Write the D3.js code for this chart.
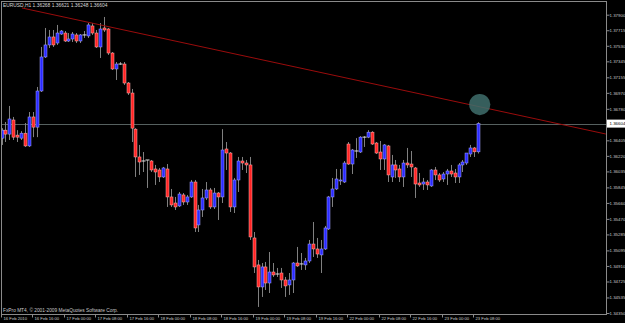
<!DOCTYPE html>
<html>
<head>
<meta charset="utf-8">
<script src="https://cdn.jsdelivr.net/npm/d3@7"></script>
<style>
    html, body { margin: 0; padding: 0; background: #000; }
    #chart { width: 625px; height: 323px; }
    text { font-family: "Liberation Sans", Arial, sans-serif; }
</style>
</head>
<body>
<div id="chart"></div>
<script>
const titleText = 'EURUSD,H1 1.36268 1.36621 1.36248 1.36604';
const copyrightText = 'FxPro MT4, \u00A9 2001-2009 MetaQuotes Software Corp.';

// H1 bars, 16 Feb 08:00 .. 23 Feb 09:00
const opens = [
    1.36431, 1.36526, 1.36479, 1.36647, 1.36467, 1.36431, 1.36490, 1.36338, 1.36683, 1.36562,
    1.36992, 1.37397, 1.37540, 1.37635, 1.37563, 1.37670, 1.37682, 1.37587, 1.37611, 1.37659,
    1.37587, 1.37659, 1.37647, 1.37766, 1.37682, 1.37516, 1.37742, 1.37730, 1.37444, 1.37254,
    1.37313, 1.37313, 1.37087, 1.36968, 1.36538, 1.36207, 1.36159, 1.36171, 1.36159, 1.36064,
    1.36052, 1.35969, 1.36064, 1.35731, 1.35659, 1.35624, 1.35755, 1.35671, 1.35731, 1.35909,
    1.35398, 1.35576, 1.35719, 1.35814, 1.35612, 1.35778, 1.35731, 1.36302, 1.36254, 1.35612,
    1.35933, 1.36159, 1.36135, 1.36112, 1.35243, 1.34922, 1.34660, 1.34898, 1.34707, 1.34838,
    1.34814, 1.34826, 1.34743, 1.34684, 1.34743, 1.34945, 1.34934, 1.34922, 1.34969, 1.35171,
    1.35112, 1.35041, 1.35112, 1.35350, 1.35731, 1.35826, 1.35921, 1.35909, 1.36361, 1.36123,
    1.36278, 1.36266, 1.36443, 1.36443, 1.36502, 1.36373, 1.36266, 1.36183, 1.36338, 1.35969,
    1.36112, 1.36064, 1.35969, 1.36135, 1.36123, 1.36076, 1.35897, 1.35885, 1.35909, 1.35862,
    1.36052, 1.35993, 1.35945, 1.36004, 1.36040, 1.36016, 1.35969, 1.36112, 1.36135, 1.36242,
    1.36314, 1.36268
];
const highs = [
    1.36550, 1.36623, 1.36814, 1.36683, 1.36526, 1.36514, 1.36611, 1.36742, 1.36742, 1.37040,
    1.37516, 1.37742, 1.37718, 1.37718, 1.37778, 1.37718, 1.37706, 1.37682, 1.37694, 1.37682,
    1.37670, 1.37706, 1.37801, 1.37801, 1.37718, 1.37801, 1.37873, 1.37742, 1.37456, 1.37337,
    1.37337, 1.37337, 1.37099, 1.37016, 1.36550, 1.36350, 1.36266, 1.36171, 1.36171, 1.36112,
    1.36076, 1.36088, 1.36123, 1.35826, 1.35731, 1.35790, 1.35778, 1.35755, 1.35933, 1.35933,
    1.35636, 1.35826, 1.35909, 1.35838, 1.35838, 1.35790, 1.36538, 1.36385, 1.36266, 1.35957,
    1.36207, 1.36207, 1.36171, 1.36207, 1.35314, 1.34981, 1.34945, 1.34957, 1.35076, 1.34945,
    1.34886, 1.34886, 1.34779, 1.34826, 1.34957, 1.35136, 1.35064, 1.35005, 1.35219, 1.35433,
    1.35243, 1.35219, 1.35386, 1.35743, 1.35957, 1.36064, 1.36064, 1.36159, 1.36385, 1.36302,
    1.36431, 1.36455, 1.36455, 1.36526, 1.36514, 1.36385, 1.36397, 1.36361, 1.36350, 1.36231,
    1.36171, 1.36112, 1.36171, 1.36314, 1.36278, 1.36088, 1.36016, 1.35957, 1.35933, 1.36064,
    1.36088, 1.36016, 1.36028, 1.36064, 1.36112, 1.36064, 1.36135, 1.36171, 1.36254, 1.36350,
    1.36326, 1.36621
];
const lows = [
    1.36350, 1.36385, 1.36409, 1.36409, 1.36385, 1.36409, 1.36326, 1.36326, 1.36443, 1.36443,
    1.36980, 1.37385, 1.37504, 1.37516, 1.37540, 1.37659, 1.37575, 1.37575, 1.37575, 1.37563,
    1.37563, 1.37623, 1.37623, 1.37659, 1.37504, 1.37385, 1.37694, 1.37421, 1.37242, 1.37123,
    1.37302, 1.37064, 1.36945, 1.36385, 1.35969, 1.35993, 1.36028, 1.35838, 1.36028, 1.35874,
    1.35909, 1.35957, 1.35612, 1.35612, 1.35576, 1.35612, 1.35636, 1.35636, 1.35719, 1.35314,
    1.35314, 1.35493, 1.35695, 1.35588, 1.35588, 1.35457, 1.35659, 1.36052, 1.35552, 1.35540,
    1.35790, 1.36052, 1.36016, 1.35219, 1.34826, 1.34422, 1.34541, 1.34624, 1.34588, 1.34779,
    1.34779, 1.34648, 1.34541, 1.34565, 1.34588, 1.34898, 1.34862, 1.34862, 1.34945, 1.35017,
    1.35005, 1.34826, 1.35100, 1.35338, 1.35612, 1.35814, 1.35874, 1.35897, 1.36112, 1.36004,
    1.36195, 1.36254, 1.36326, 1.36431, 1.36350, 1.36242, 1.36052, 1.36052, 1.35909, 1.35909,
    1.35957, 1.35909, 1.35850, 1.36076, 1.35969, 1.35719, 1.35850, 1.35814, 1.35814, 1.35850,
    1.35933, 1.35909, 1.35909, 1.35874, 1.35969, 1.35897, 1.35897, 1.36028, 1.36112, 1.36207,
    1.36207, 1.36248
];
const closes = [
    1.36526, 1.36479, 1.36659, 1.36443, 1.36443, 1.36490, 1.36338, 1.36683, 1.36562, 1.36992,
    1.37397, 1.37540, 1.37635, 1.37540, 1.37682, 1.37706, 1.37587, 1.37611, 1.37670, 1.37587,
    1.37659, 1.37659, 1.37778, 1.37682, 1.37516, 1.37730, 1.37718, 1.37444, 1.37254, 1.37313,
    1.37313, 1.37087, 1.36968, 1.36550, 1.36207, 1.36147, 1.36159, 1.36171, 1.36052, 1.36028,
    1.35969, 1.36076, 1.35731, 1.35636, 1.35612, 1.35766, 1.35671, 1.35731, 1.35909, 1.35362,
    1.35576, 1.35719, 1.35814, 1.35612, 1.35778, 1.35731, 1.36290, 1.36254, 1.35612, 1.35933,
    1.36159, 1.36135, 1.36112, 1.35255, 1.34898, 1.34660, 1.34898, 1.34707, 1.34838, 1.34803,
    1.34814, 1.34743, 1.34672, 1.34743, 1.34945, 1.34910, 1.34934, 1.34969, 1.35171, 1.35112,
    1.35052, 1.35112, 1.35362, 1.35731, 1.35826, 1.35945, 1.35933, 1.36135, 1.36123, 1.36290,
    1.36278, 1.36443, 1.36443, 1.36502, 1.36361, 1.36254, 1.36183, 1.36350, 1.35993, 1.36112,
    1.36052, 1.35969, 1.36135, 1.36112, 1.36088, 1.35885, 1.35874, 1.35909, 1.35874, 1.36052,
    1.35993, 1.35933, 1.36004, 1.36040, 1.36004, 1.35969, 1.36112, 1.36147, 1.36254, 1.36314,
    1.36268, 1.36604
];

// one label every 8 bars
const timeLabels = [
    '16 Feb 2010', '16 Feb 16:00', '17 Feb 00:00', '17 Feb 08:00', '17 Feb 16:00',
    '18 Feb 00:00', '18 Feb 08:00', '18 Feb 16:00', '19 Feb 00:00', '19 Feb 08:00',
    '19 Feb 16:00', '22 Feb 00:00', '22 Feb 08:00', '22 Feb 16:00', '23 Feb 00:00', '23 Feb 08:00'
];
const priceTicks = [
    1.37900, 1.37715, 1.37530, 1.37345, 1.37155, 1.36970, 1.36780, 1.36405, 1.36220, 1.36035,
    1.35845, 1.35660, 1.35470, 1.35285, 1.35095, 1.34910, 1.34725, 1.34535, 1.34350
];
const lastPrice = 1.36604;

// trend line anchors [bar, price] and the marker circle
const trendLine = [[5.2, 1.37980], [153.4, 1.36480]];
const marker = [121.4, 1.36830];

const bars = opens.map((o, i) => ({ i, o, h: highs[i], l: lows[i], c: closes[i] }));

const W = 625, H = 323;
const frame = { left: 1.5, top: 1.5, right: 606.5, bottom: 314.5 };

const svg = d3.select('#chart').append('svg')
    .attr('width', W)
    .attr('height', H)
    .style('background', '#000');

const x = d3.scaleLinear()
    .domain([0, bars.length - 1])
    .range([1.5, 478.2]);

const y = d3.scaleLinear()
    .domain([1.34350, 1.37900])
    .range([313, 14.7]);

svg.append('clipPath').attr('id', 'plot')
    .append('rect')
    .attr('x', frame.left).attr('y', frame.top)
    .attr('width', frame.right - frame.left)
    .attr('height', frame.bottom - frame.top);

const plot = svg.append('g').attr('clip-path', 'url(#plot)');

// current price line
plot.append('line')
    .attr('x1', frame.left).attr('x2', frame.right)
    .attr('y1', Math.round(y(lastPrice)) + 0.5)
    .attr('y2', Math.round(y(lastPrice)) + 0.5)
    .attr('stroke', '#56605f')
    .attr('stroke-width', 1);

// wicks
plot.selectAll('.wick')
    .data(bars)
    .join('line')
    .attr('class', 'wick')
    .attr('x1', d => Math.round(x(d.i)) + 0.5)
    .attr('x2', d => Math.round(x(d.i)) + 0.5)
    .attr('y1', d => y(d.h))
    .attr('y2', d => y(d.l))
    .attr('stroke', '#808080')
    .attr('stroke-width', 1);

// bodies
const isDoji = d => Math.abs(d.o - d.c) < 0.00002;

plot.selectAll('.body')
    .data(bars.filter(d => !isDoji(d)))
    .join('rect')
    .attr('class', 'body')
    .attr('x', d => Math.round(x(d.i)) - 1)
    .attr('y', d => y(Math.max(d.o, d.c)))
    .attr('width', 3)
    .attr('height', d => Math.max(1, Math.abs(y(d.o) - y(d.c))))
    .attr('fill', d => d.c > d.o ? '#2a2aff' : '#ff2424')
    .attr('stroke', d => d.c > d.o ? '#a8a8ff' : '#ffb0b0')
    .attr('stroke-width', 0.5);

plot.selectAll('.doji')
    .data(bars.filter(isDoji))
    .join('line')
    .attr('class', 'doji')
    .attr('x1', d => Math.round(x(d.i)) - 1.5)
    .attr('x2', d => Math.round(x(d.i)) + 2.5)
    .attr('y1', d => y(d.c))
    .attr('y2', d => y(d.c))
    .attr('stroke', '#e0e0e0')
    .attr('stroke-width', 1);

// trend line
plot.append('line')
    .attr('x1', x(trendLine[0][0])).attr('y1', y(trendLine[0][1]))
    .attr('x2', x(trendLine[1][0])).attr('y2', y(trendLine[1][1]))
    .attr('stroke', '#9a0c0c')
    .attr('stroke-width', 1);

plot.append('circle')
    .attr('cx', x(marker[0]))
    .attr('cy', y(marker[1]))
    .attr('r', 10.6)
    .attr('fill', '#3f6e6c')
    .attr('fill-opacity', 0.85);

// frame
svg.append('rect')
    .attr('x', frame.left).attr('y', frame.top)
    .attr('width', frame.right - frame.left)
    .attr('height', frame.bottom - frame.top)
    .attr('fill', 'none')
    .attr('stroke', '#8a8a8a')
    .attr('stroke-width', 1);

// price axis
const axisY = svg.append('g')
    .attr('transform', `translate(${frame.right}, 0)`)
    .call(d3.axisRight(y)
        .tickValues(priceTicks)
        .tickSize(3)
        .tickSizeOuter(0)
        .tickFormat(d3.format('.5f')));

axisY.select('.domain').remove();
axisY.selectAll('line').attr('stroke', '#8a8a8a');
axisY.selectAll('text')
    .attr('x', 3)
    .attr('fill', '#c8c8c8')
    .style('font-size', '4.4px');

// time axis
const axisX = svg.append('g')
    .attr('transform', `translate(0, ${frame.bottom})`)
    .call(d3.axisBottom(x)
        .tickValues(d3.range(0, bars.length, 8))
        .tickSize(3)
        .tickSizeOuter(0)
        .tickFormat((d, i) => timeLabels[i]));

axisX.select('.domain').remove();
axisX.selectAll('.tick').attr('transform', d => `translate(${Math.round(x(d)) - 0.5}, 0)`);
axisX.selectAll('line').attr('stroke', '#8a8a8a');
axisX.selectAll('text')
    .attr('text-anchor', 'start')
    .attr('x', 2)
    .attr('y', 2.2)
    .attr('fill', '#c8c8c8')
    .style('font-size', '4.2px');

// current price tag
const tagY = y(lastPrice);
svg.append('rect')
    .attr('x', frame.right + 0.5).attr('y', tagY - 4)
    .attr('width', 19).attr('height', 8)
    .attr('fill', '#fff');
svg.append('text')
    .attr('x', frame.right + 3).attr('y', tagY)
    .attr('dy', '0.35em')
    .attr('fill', '#000')
    .style('font-size', '4.4px')
    .text(d3.format('.5f')(lastPrice));

// header and footer texts
svg.append('text')
    .attr('x', 3).attr('y', 6.8)
    .attr('fill', '#d8d8d8')
    .style('font-size', '4.9px')
    .text(titleText);

svg.append('text')
    .attr('x', 3).attr('y', 311.5)
    .attr('fill', '#c8c8c8')
    .style('font-size', '4.8px')
    .text(copyrightText);
</script>
</body>
</html>
